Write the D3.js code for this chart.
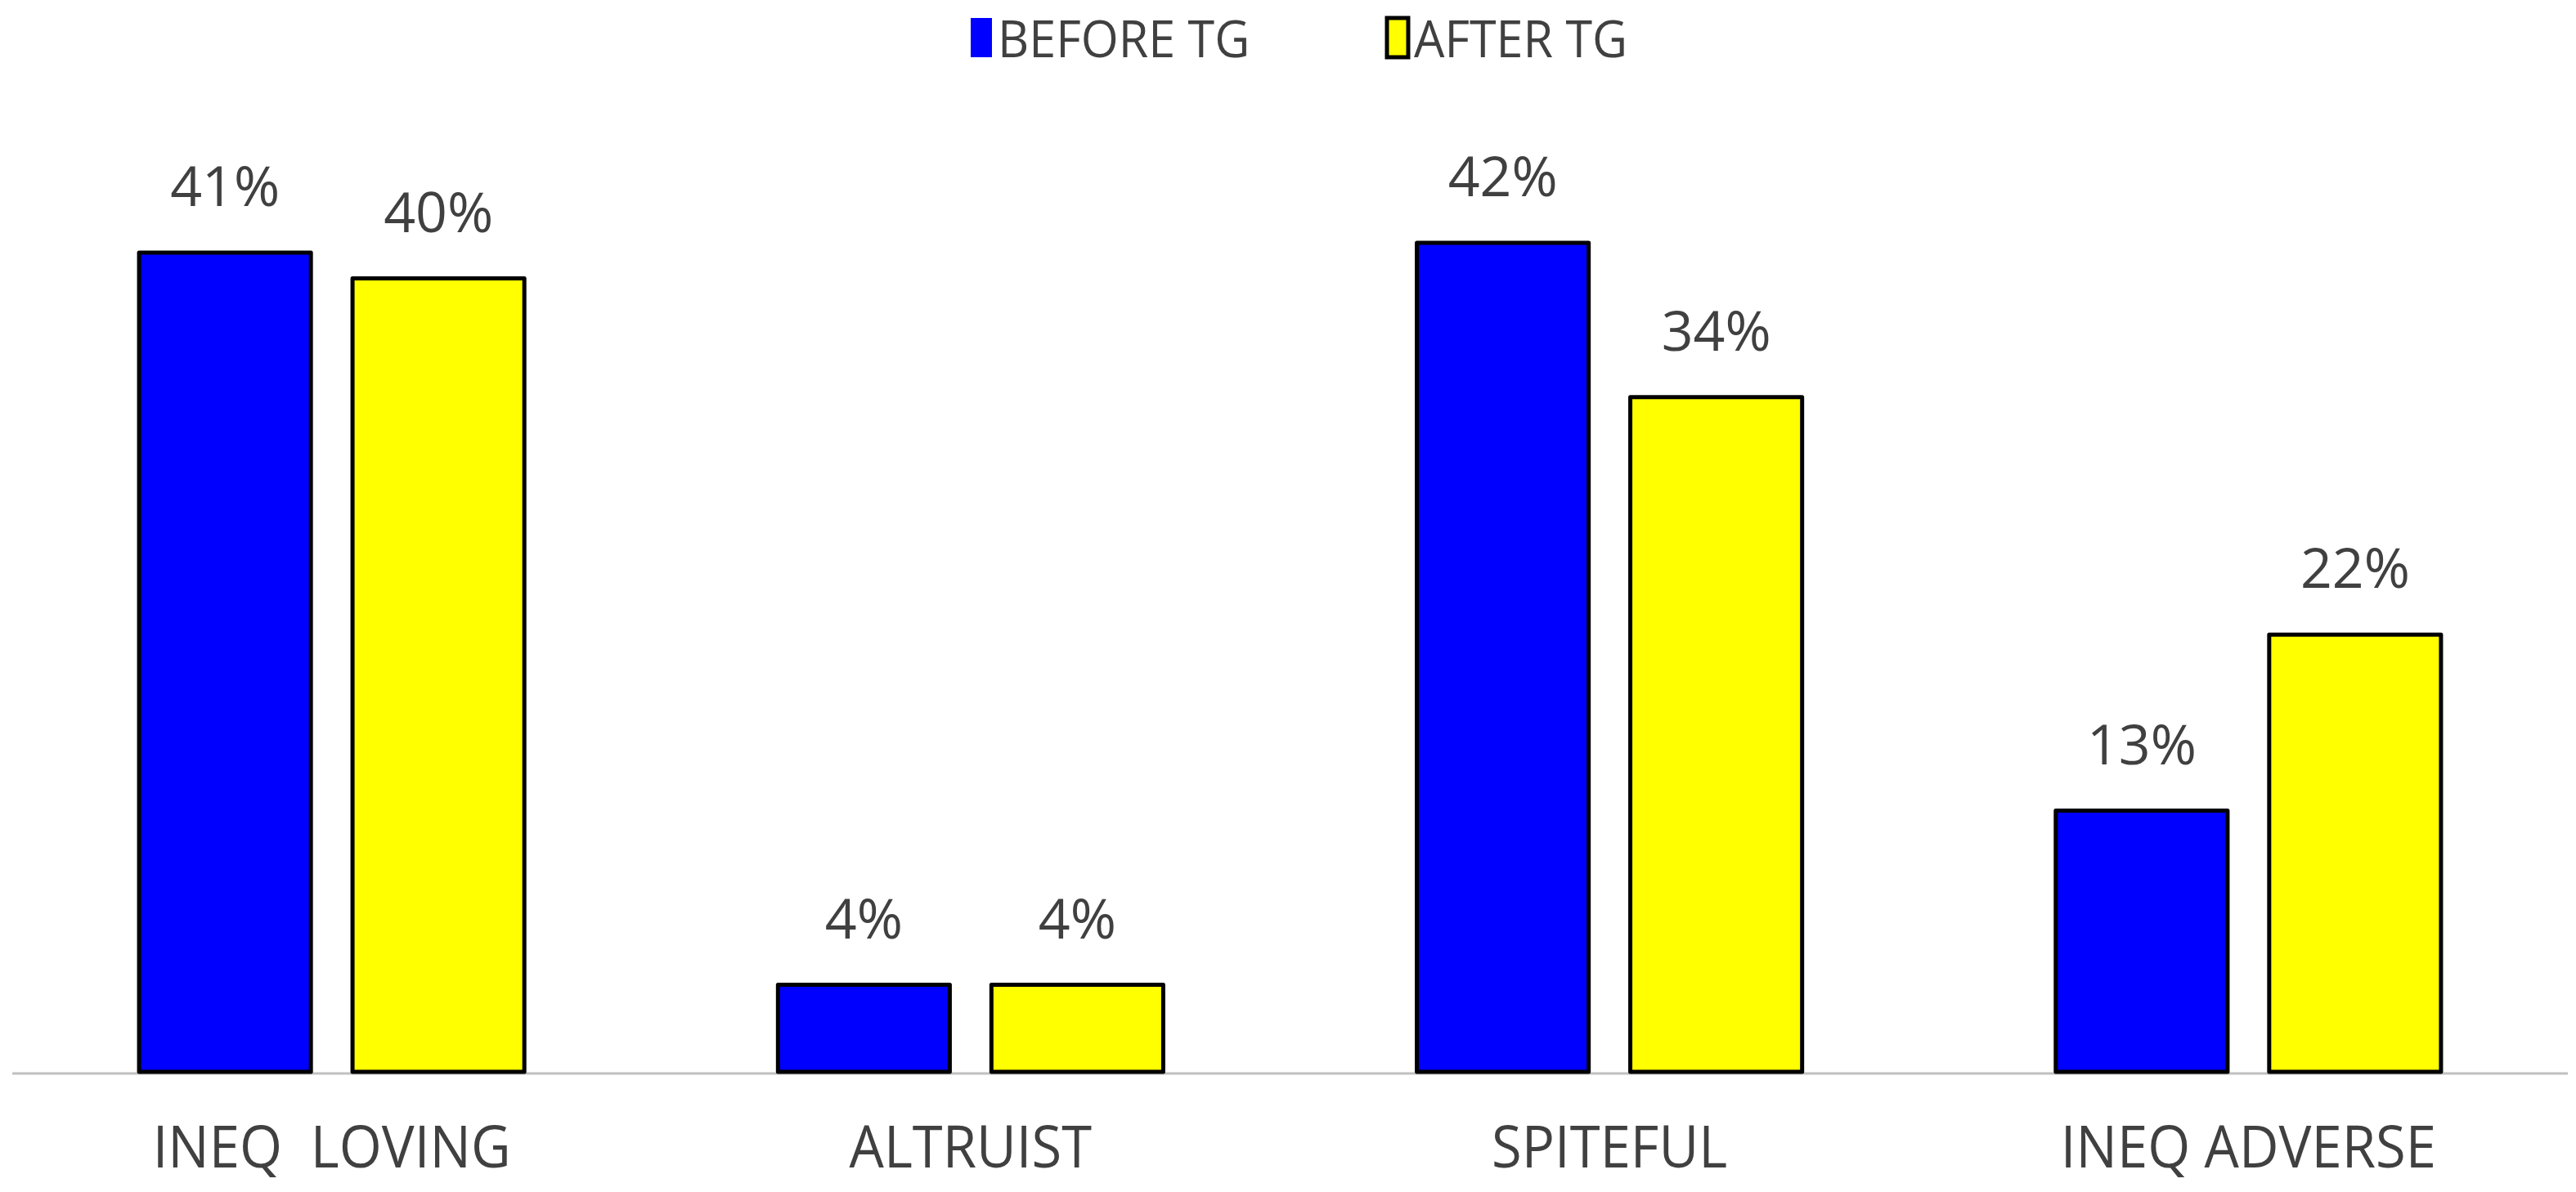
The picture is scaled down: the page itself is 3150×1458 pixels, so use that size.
<!DOCTYPE html>
<html>
<head>
<meta charset="utf-8">
<script src="https://cdn.jsdelivr.net/npm/d3@7"></script>
<style>
  html, body { margin: 0; padding: 0; background: #ffffff; }
  svg { display: block; }
  text { font-family: "Open Sans", "Liberation Sans", sans-serif; fill: #404040; }
</style>
</head>
<body>
<svg id="chart" width="3150" height="1458"></svg>
<script>
// ---- data ----
const categories = ["INEQ\u00a0\u00a0LOVING", "ALTRUIST", "SPITEFUL", "INEQ ADVERSE"];
const seriesNames = ["BEFORE TG", "AFTER TG"];
const beforeTG = [41.4, 4.4, 41.9, 13.2];
const afterTG = [40.1, 4.4, 34.1, 22.1];
const seriesColors = ["#0000ff", "#ffff00"];

// ---- layout ----
const baseY = 1311;
const svg = d3.select("#chart");

const x0 = d3.scaleBand().domain(categories).range([15, 3140])
  .paddingInner(0.397).paddingOuter(0.1985);
const x1 = d3.scaleBand().domain(seriesNames).range([0, x0.bandwidth()])
  .paddingInner(0.195).paddingOuter(0);
const y = d3.scaleLinear().domain([0, 50]).range([baseY, baseY - 50 * 24.2]);
const color = d3.scaleOrdinal().domain(seriesNames).range(seriesColors);

const rows = categories.map((c, i) => ({ cat: c, vals: [
  { s: seriesNames[0], v: beforeTG[i] },
  { s: seriesNames[1], v: afterTG[i] }
]}));

function squeeze(sx) {
  return sel => sel.attr("transform", function () {
    const xx = +this.getAttribute("x"), yy = +this.getAttribute("y");
    return `translate(${xx},${yy}) scale(${sx},1) translate(${-xx},${-yy})`;
  });
}

// axis line (category axis, no ticks)
const xAxis = d3.axisBottom(x0).tickSize(0).tickFormat("");
const axisG = svg.append("g").attr("transform", `translate(0,${baseY + 2})`).call(xAxis);
axisG.select(".domain").attr("stroke", "#c0c0c0").attr("stroke-width", 3)
  .attr("d", `M15,0H3140`);

// bars
const groups = svg.append("g").selectAll("g").data(rows).join("g")
  .attr("transform", d => `translate(${x0(d.cat)},0)`);

groups.selectAll("rect").data(d => d.vals).join("rect")
  .attr("x", d => x1(d.s))
  .attr("y", d => y(d.v))
  .attr("width", x1.bandwidth())
  .attr("height", d => y(0) - y(d.v))
  .attr("fill", d => color(d.s))
  .attr("stroke", "#000")
  .attr("stroke-width", 5)
  .attr("stroke-linejoin", "round");

// value labels
groups.selectAll("text.val").data(d => d.vals).join("text")
  .attr("class", "val")
  .attr("x", d => x1(d.s) + x1.bandwidth() / 2)
  .attr("y", d => y(d.v) - 57)
  .attr("text-anchor", "middle")
  .attr("font-size", 68)
  .text(d => Math.round(d.v) + "%");

// category labels
svg.append("g").selectAll("text").data(categories).join("text")
  .attr("x", d => x0(d) + x0.bandwidth() / 2)
  .attr("y", 1428)
  .attr("text-anchor", "middle")
  .attr("font-size", 72)
  .text(d => d)
  .call(squeeze(0.93));

// legend
const legendX = [1187, 1696];
const leg = svg.append("g").selectAll("g").data(seriesNames).join("g")
  .attr("transform", (d, i) => `translate(${legendX[i]},0)`);
leg.append("rect")
  .attr("x", 0).attr("y", 22).attr("width", 26).attr("height", 48)
  .attr("fill", d => color(d))
  .attr("stroke", (d, i) => i === 0 ? "none" : "#000")
  .attr("stroke-width", 5);
leg.append("text")
  .attr("x", 33).attr("y", 70)
  .attr("font-size", 63)
  .text(d => d)
  .call(squeeze(0.94));
</script>
</body>
</html>
